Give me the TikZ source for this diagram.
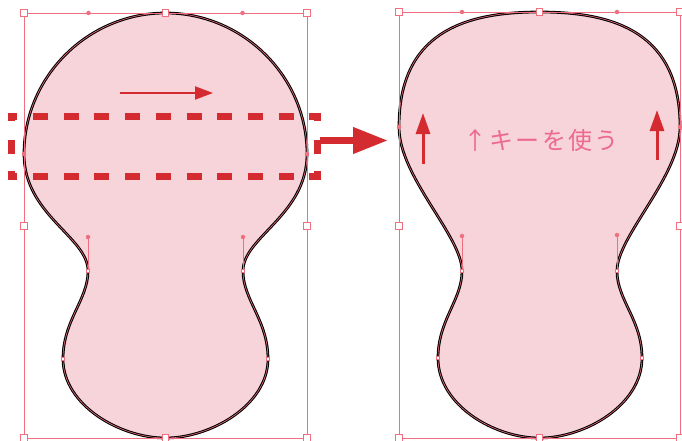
\documentclass[tikz,border=0pt]{standalone}
\usepackage{fontspec}
\newfontfamily\jpfont[LetterSpace=9]{Noto Sans CJK JP}
\usetikzlibrary{arrows.meta}
\definecolor{shapepink}{HTML}{F7D4DA}
\definecolor{selpink}{HTML}{EF6F7E}
\definecolor{arrowred}{HTML}{D42B30}
\definecolor{textpink}{HTML}{EC6A8E}
\tikzset{
  outline/.style   = {fill=shapepink, draw=black, line width=2.7pt},
  selpath/.style   = {draw=selpink, line width=0.6pt},
  bbox/.style      = {draw=selpink, line width=0.9pt},
  boxhandle/.style = {rectangle, draw=selpink, fill=white, line width=0.9pt,
                      minimum size=6.5pt, inner sep=0pt},
  anchorpt/.style  = {rectangle, draw=selpink, fill=white, line width=0.7pt,
                      minimum size=3.5pt, inner sep=0pt},
  handledot/.style = {circle, fill=selpink, minimum size=4.5pt, inner sep=0pt},
  dashrow/.style   = {draw=arrowred, line width=7pt, dash pattern=on 15pt off 15.7pt, dash phase=5.2pt},
  dashcol/.style   = {draw=arrowred, line width=7pt,
                      dash pattern=on 4pt off 19pt on 14pt off 17pt on 5pt off 10pt},
  thinarrow/.style = {draw=arrowred, line width=2pt, -{Triangle[length=18pt,width=13pt]}},
  uparrow/.style   = {draw=arrowred, line width=3pt, -{Triangle[length=21pt,width=14pt]}},
  bigarrow/.style  = {draw=arrowred, line width=7pt, -{Triangle[length=35pt,width=25pt]}},
  label/.style     = {text=textpink, font=\jpfont\fontsize{24}{24}\selectfont, inner sep=0pt},
}

\begin{document}
\begin{tikzpicture}[x=1pt, y=-1pt]
  \useasboundingbox (0,0) rectangle (682,441);

  % left shape (before)
  \path[outline] (165.5,13) .. controls (88.5,13) and (24,76) .. (24,154)
    .. controls (24,215) and (88,237) .. (88,271)
    .. controls (88,300) and (63,320) .. (63,359)
    .. controls (63,405) and (120,438) .. (165.5,438)
    .. controls (211,438) and (268,405) .. (268,359)
    .. controls (268,320) and (243,300) .. (243,271)
    .. controls (243,237) and (307,215) .. (307,154)
    .. controls (307,76) and (242.5,13) .. (165.5,13) -- cycle;
  \path[selpath] (165.5,13) .. controls (88.5,13) and (24,76) .. (24,154)
    .. controls (24,215) and (88,237) .. (88,271)
    .. controls (88,300) and (63,320) .. (63,359)
    .. controls (63,405) and (120,438) .. (165.5,438)
    .. controls (211,438) and (268,405) .. (268,359)
    .. controls (268,320) and (243,300) .. (243,271)
    .. controls (243,237) and (307,215) .. (307,154)
    .. controls (307,76) and (242.5,13) .. (165.5,13) -- cycle;

  % right shape (after)
  \path[outline] (539.5,12) .. controls (462,12) and (399,34) .. (399,127)
    .. controls (399,177) and (462,236) .. (462,271)
    .. controls (462,300) and (438,320) .. (438,358)
    .. controls (438,405) and (494,438) .. (539.5,438)
    .. controls (585,438) and (642,405) .. (642,358)
    .. controls (642,320) and (617,300) .. (617,271)
    .. controls (617,236) and (680,177) .. (680,127)
    .. controls (680,34) and (617,12) .. (539.5,12) -- cycle;
  \path[selpath] (539.5,12) .. controls (462,12) and (399,34) .. (399,127)
    .. controls (399,177) and (462,236) .. (462,271)
    .. controls (462,300) and (438,320) .. (438,358)
    .. controls (438,405) and (494,438) .. (539.5,438)
    .. controls (585,438) and (642,405) .. (642,358)
    .. controls (642,320) and (617,300) .. (617,271)
    .. controls (617,236) and (680,177) .. (680,127)
    .. controls (680,34) and (617,12) .. (539.5,12) -- cycle;

  % bounding boxes
  \draw[bbox] (24,13) rectangle (307,438);
  \draw[bbox] (399,12) rectangle (680,438);

  % handles, left
  \node[handledot] (lht1) at (88.5,13) {};
  \node[handledot] (lht2) at (242.5,13) {};
  \node[handledot] (lhn1) at (88,237) {};
  \node[handledot] (lhn2) at (243,237) {};
  \node[anchorpt]  (lan1) at (88,271) {};
  \node[anchorpt]  (lan2) at (243,271) {};
  \draw[selpath] (lan1) -- (lhn1);
  \draw[selpath] (lan2) -- (lhn2);
  \node[anchorpt]  (lab1) at (63,359) {};
  \node[anchorpt]  (lab2) at (268,359) {};
  \node[handledot] (law1) at (24,154) {};
  \node[handledot] (law2) at (307,154) {};
  \foreach \x/\y [count=\i] in {24/13, 165.5/13, 307/13, 24/226, 307/226, 24/438, 165.5/438, 307/438}
    \node[boxhandle] (lbh\i) at (\x,\y) {};

  % handles, right
  \node[handledot] (rht1) at (462,12) {};
  \node[handledot] (rht2) at (617,12) {};
  \node[handledot] (rhn1) at (462,236) {};
  \node[handledot] (rhn2) at (617,235) {};
  \node[anchorpt]  (ran1) at (462,271) {};
  \node[anchorpt]  (ran2) at (617,271) {};
  \draw[selpath] (ran1) -- (rhn1);
  \draw[selpath] (ran2) -- (rhn2);
  \node[anchorpt]  (rab1) at (438,358) {};
  \node[anchorpt]  (rab2) at (642,358) {};
  \node[handledot] (raw1) at (399,127) {};
  \node[handledot] (raw2) at (680,127) {};
  \foreach \x/\y [count=\i] in {399/12, 539.5/12, 680/12, 399/226, 680/226, 399/438, 539.5/438, 680/438}
    \node[boxhandle] (rbh\i) at (\x,\y) {};

  % dashed band
  \coordinate (bandTL) at (11,117);
  \coordinate (bandTR) at (317,117);
  \coordinate (bandBL) at (11,176);
  \coordinate (bandBR) at (317,176);
  \draw[dashrow] ([xshift=-3.5pt]bandTL) -- ([xshift=3.5pt]bandTR);
  \draw[dashrow] ([xshift=-3.5pt]bandBL) -- ([xshift=3.5pt]bandBR);
  \draw[dashcol] (bandTL) -- (bandBL);
  \draw[dashcol] (bandTR) -- (bandBR);

  % arrows
  \coordinate (sweepA) at (120,93);
  \coordinate (sweepB) at (213,93);
  \draw[thinarrow] (sweepA) -- (sweepB);
  \coordinate (goA) at (320,140.5);
  \coordinate (goB) at (388,140.5);
  \draw[bigarrow] (goA) -- (goB);
  \coordinate (upLa) at (423,164);
  \coordinate (upLb) at (423,113);
  \draw[uparrow] (upLa) -- (upLb);
  \coordinate (upRa) at (657,160);
  \coordinate (upRb) at (657,110);
  \draw[uparrow] (upRa) -- (upRb);

  \node[label] (hint) at (541,140) {↑キーを使う};
\end{tikzpicture}
\end{document}
